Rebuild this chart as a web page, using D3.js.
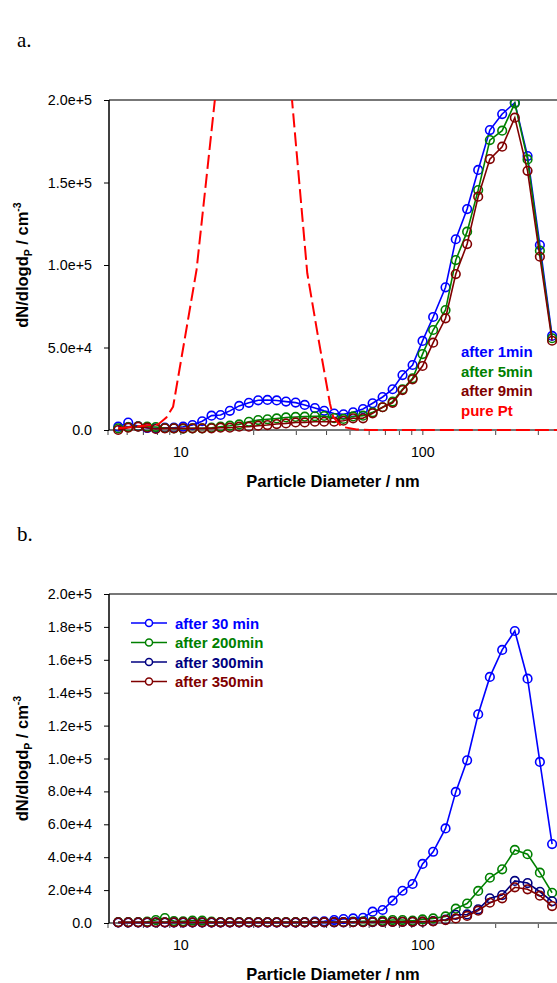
<!DOCTYPE html>
<html>
<head>
<meta charset="utf-8">
<script src="https://cdn.jsdelivr.net/npm/d3@7"></script>
<style>
  body { margin: 0; background: #fff; }
  svg { display: block; font-family: Arial, "Liberation Sans", sans-serif; }
</style>
</head>
<body>
<div id="chart"></div>
<script>
// particle diameters (nm) of the size channels
var diam = [5.51, 6.06, 6.66, 7.26, 7.88, 8.59, 9.36, 10.22, 11.17, 12.25, 13.39, 14.59, 15.94, 17.42, 19.1,
  20.87, 22.8, 24.9, 27.2, 29.8, 32.5, 35.8, 39.1, 43.0, 47.0, 51.5, 56.6, 62.0, 68.2, 75.0, 82.4, 90.7,
  99.7, 110.3, 124.1, 136.8, 152.4, 169.3, 189.2, 212.7, 239.9, 270.8, 304.5, 342];

// panel a
var after1 = [2000, 4500, 2200, 1200, 1000, 1400, 1400, 2000, 3000, 5300, 8700, 9100, 11600, 14600, 16500,
  18000, 18200, 17900, 17200, 16600, 15200, 13300, 11600, 10000, 9500, 10700, 12700, 16200, 20000, 24700,
  33300, 39400, 54000, 68500, 86500, 115600, 133900, 157600, 181800, 191500, 198400, 166000, 112100, 57000];
var after5 = [1000, 1800, 2200, 2000, 1800, 1200, 1000, 800, 1000, 1000, 1400, 2000, 2600, 3400, 5000,
  6000, 6500, 7000, 7600, 7900, 8100, 8300, 8500, 7200, 6700, 8200, 8700, 10700, 13800, 17200,
  24700, 31300, 46000, 60600, 72700, 103000, 120200, 145400, 175700, 181400, 198000, 164000, 108700, 55600];
var after9 = [0, 1400, 2000, 1400, 600, 1000, 1000, 1000, 1000, 1000, 1000, 1400, 1400, 2000, 2000,
  2600, 3000, 3600, 4000, 4600, 4600, 5000, 5000, 5000, 5600, 7100, 7100, 10100, 13800, 16500,
  24200, 30700, 38800, 52900, 67700, 94500, 112700, 141400, 164200, 171700, 189300, 157100, 105000, 54100];
var pureDiam = [5.51, 8.06, 8.73, 9.29, 11.61, 13.82, 19.8, 28.8, 33.3, 36.9, 41.3, 42.6, 46.1, 53.2, 60.4, 600];
var pureVal = [1000, 3400, 7700, 14100, 97000, 200000, 900000, 200000, 95000, 56500, 16200, 8000, 2000, 300, 0, 0];

// panel b
var after30 = [300, 300, 300, 300, 300, 300, 300, 300, 300, 300, 300, 300, 300, 300, 300,
  300, 300, 300, 300, 300, 500, 800, 1000, 1800, 2400, 2800, 3200, 6900, 7900, 13600,
  19600, 23700, 35900, 43300, 57500, 79700, 98900, 126900, 149600, 166000, 177500, 148500, 97900, 48000];
var after200 = [500, 500, 500, 800, 1800, 3000, 1200, 1000, 1500, 1500, 800, 600, 600, 600, 600,
  600, 600, 600, 600, 600, 600, 600, 600, 600, 600, 800, 1000, 1000, 1400, 1800,
  1800, 1400, 2200, 2800, 4000, 8700, 11800, 19500, 27500, 32600, 44400, 41800, 30600, 18400];
var after300 = [300, 300, 300, 300, 300, 300, 300, 300, 300, 300, 300, 300, 300, 300, 300,
  300, 300, 300, 300, 300, 300, 300, 400, 400, 400, 500, 500, 500, 600, 700,
  700, 700, 800, 1200, 2000, 5000, 5200, 8300, 15000, 17000, 25600, 24300, 19000, 13200];
var after350 = [400, 400, 400, 400, 400, 400, 400, 400, 400, 400, 400, 400, 400, 400, 400,
  400, 400, 400, 400, 400, 400, 400, 500, 500, 500, 500, 500, 600, 600, 700,
  700, 700, 800, 1000, 1800, 2800, 4300, 7500, 12300, 15000, 21700, 20500, 16600, 10300];

var xTickLabels = [10, 100];
var yTicksA = [0, 50000, 100000, 150000, 200000];
var yTicksB = [0, 20000, 40000, 60000, 80000, 100000, 120000, 140000, 160000, 180000, 200000];

var W = 557, H = 983;
var svg = d3.select("#chart").append("svg").attr("width", W).attr("height", H);

// log axis: one decade = 242 px, left edge at 5 nm
var x = d3.scaleLog().domain([5, 1000]).range([108, 108 + 242 * Math.log10(200)]);
var minorTicks = [];
[1, 10, 100].forEach(function(dec) {
  for (var k = 1; k < 10; k++) if (k * dec >= 5) minorTicks.push(k * dec);
});

var fmt = function(d) { return d === 0 ? "0.0" : d3.format(".1e")(d); };

function panel(opt) {
  var y = d3.scaleLinear().domain([0, 200000]).range([opt.bottom, opt.top]);
  var g = svg.append("g");

  g.append("clipPath").attr("id", opt.id)
    .append("rect").attr("x", 108).attr("y", opt.top).attr("width", W).attr("height", opt.bottom - opt.top + 6);

  // x ticks
  g.selectAll(".xt").data(minorTicks).enter().append("line")
    .attr("x1", function(d) { return x(d); }).attr("x2", function(d) { return x(d); })
    .attr("y1", opt.bottom).attr("y2", opt.bottom + 5)
    .attr("stroke", "#444").attr("stroke-width", 1);
  g.selectAll(".xl").data(xTickLabels).enter().append("text")
    .attr("x", function(d) { return x(d); }).attr("y", opt.bottom + 27)
    .attr("text-anchor", "middle").attr("font-size", 14.3).text(function(d) { return d; });

  // y axis
  var ya = g.append("g").attr("transform", "translate(109,0)")
    .call(d3.axisLeft(y).tickValues(opt.yTicks).tickFormat(fmt).tickSize(5).tickPadding(12));
  ya.select(".domain").remove();
  ya.selectAll("text").attr("font-size", 14.3).attr("font-family", "Arial, 'Liberation Sans', sans-serif");

  // frame
  g.append("line").attr("x1", 109).attr("x2", W).attr("y1", opt.top).attr("y2", opt.top)
    .attr("stroke", "#777").attr("stroke-width", 2);
  g.append("line").attr("x1", 109).attr("x2", W).attr("y1", opt.bottom).attr("y2", opt.bottom)
    .attr("stroke", "#777").attr("stroke-width", 2);
  g.append("line").attr("x1", 109).attr("x2", 109).attr("y1", opt.top).attr("y2", opt.bottom)
    .attr("stroke", "#000").attr("stroke-width", 1.5);

  var plot = g.append("g").attr("clip-path", "url(#" + opt.id + ")");
  var line = d3.line().x(function(d) { return x(d[0]); }).y(function(d) { return y(d[1]); });

  opt.series.forEach(function(s) {
    var pts = s.xs.map(function(v, i) { return [v, s.vals[i]]; });
    plot.append("path").datum(pts).attr("d", line)
      .attr("fill", "none").attr("stroke", s.color).attr("stroke-width", s.dash ? 2 : 1.6)
      .attr("stroke-dasharray", s.dash ? "14,5" : null);
    if (!s.dash) {
      plot.selectAll(null).data(pts).enter().append("circle")
        .attr("cx", function(d) { return x(d[0]); }).attr("cy", function(d) { return y(d[1]); })
        .attr("r", 4.3).attr("fill", "none").attr("stroke", s.color).attr("stroke-width", 1.6);
    }
  });

  // axis titles
  svg.append("text").attr("x", 333).attr("y", opt.bottom + 57)
    .attr("text-anchor", "middle").attr("font-size", 16.5).attr("font-weight", "bold")
    .text("Particle Diameter / nm");
  var yt = svg.append("text")
    .attr("transform", "translate(28," + ((opt.top + opt.bottom) / 2) + ") rotate(-90)")
    .attr("text-anchor", "middle").attr("font-size", 16.5).attr("font-weight", "bold");
  yt.append("tspan").text("dN/dlogd");
  yt.append("tspan").attr("dy", 4).attr("font-size", 10.5).text("P");
  yt.append("tspan").attr("dy", -4).text(" / cm");
  yt.append("tspan").attr("dy", -7).attr("font-size", 10.5).text("-3");

  svg.append("text").attr("x", 17).attr("y", opt.top - 53)
    .attr("font-family", "'Liberation Serif', 'Times New Roman', serif").attr("font-size", 21)
    .text(opt.tag);
}

panel({
  id: "clipA", tag: "a.", top: 100, bottom: 430, yTicks: yTicksA,
  series: [
    { xs: diam, vals: after1, color: "#0000ff" },
    { xs: diam, vals: after5, color: "#008000" },
    { xs: diam, vals: after9, color: "#800000" },
    { xs: pureDiam, vals: pureVal, color: "#ff0000", dash: true }
  ]
});

panel({
  id: "clipB", tag: "b.", top: 594, bottom: 923, yTicks: yTicksB,
  series: [
    { xs: diam, vals: after30, color: "#0000ff" },
    { xs: diam, vals: after200, color: "#008000" },
    { xs: diam, vals: after300, color: "#000080" },
    { xs: diam, vals: after350, color: "#800000" }
  ]
});

// legend a (text only)
var legA = [["after 1min", "#0000ff"], ["after 5min", "#008000"], ["after 9min", "#800000"], ["pure Pt", "#ff0000"]];
svg.selectAll(".la").data(legA).enter().append("text")
  .attr("x", 461).attr("y", function(d, i) { return 357 + i * 19.5; })
  .attr("font-size", 15).attr("font-weight", "bold")
  .attr("fill", function(d) { return d[1]; }).text(function(d) { return d[0]; });

// legend b
var legB = [["after 30 min", "#0000ff"], ["after 200min", "#008000"], ["after 300min", "#000080"], ["after 350min", "#800000"]];
var lb = svg.selectAll(".lb").data(legB).enter().append("g")
  .attr("transform", function(d, i) { return "translate(0," + (623 + i * 19.5) + ")"; });
lb.append("line").attr("x1", 131).attr("x2", 167).attr("stroke", function(d) { return d[1]; }).attr("stroke-width", 1.6);
lb.append("circle").attr("cx", 149).attr("r", 3.5).attr("fill", "#fff")
  .attr("stroke", function(d) { return d[1]; }).attr("stroke-width", 1.5);
lb.append("text").attr("x", 175).attr("y", 5.5).attr("font-size", 15).attr("font-weight", "bold")
  .attr("fill", function(d) { return d[1]; }).text(function(d) { return d[0]; });
</script>
</body>
</html>
